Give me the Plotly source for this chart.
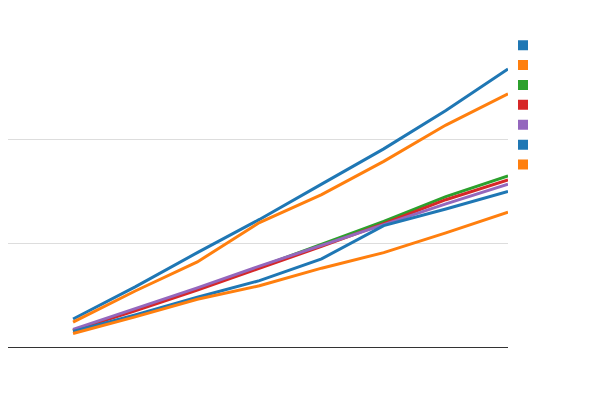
import plotly.graph_objects as go

# x positions (no labels visible in the chart)
steps = [0, 1, 2, 3, 4, 5, 6, 7]

# series values (grid step = 100)
s1 = [27, 58, 91, 123, 157, 191, 228, 268]
s2 = [24, 54, 82, 120, 147, 179, 214, 244]
s3 = [16, 36, 56, 77, 99, 121, 145, 165]
s4 = [16, 35, 55, 76, 97, 119, 142, 161]
s5 = [17, 37, 57, 78, 98, 118, 138, 157]
s6 = [15, 31, 48, 64, 85, 117, 133, 150]
s7 = [13, 29, 46, 59, 76, 91, 110, 130]

series = [s1, s2, s3, s4, s5, s6, s7]
colors = ["#1f77b4", "#ff7f0e", "#2ca02c", "#d62728", "#9467bd", "#1f77b4", "#ff7f0e"]

fig = go.Figure()
for vals, c in zip(series, colors):
    fig.add_trace(go.Scatter(x=steps, y=vals, mode="lines",
                             line=dict(color=c, width=3), showlegend=False))

# legend shows plain coloured squares with no labels
for c in colors:
    fig.add_trace(go.Scatter(x=[None], y=[None], mode="markers", name=" ",
                             marker=dict(symbol="square", size=10, color=c)))

fig.update_layout(
    width=600, height=400,
    margin=dict(l=0, r=100, t=32, b=61),
    plot_bgcolor="white", paper_bgcolor="white",
    legend=dict(x=0.99, y=1.032, xanchor="left", yanchor="top",
                bgcolor="rgba(0,0,0,0)", tracegroupgap=0, font=dict(size=13)),
)
fig.update_xaxes(range=[-1.047, 7], showgrid=False, zeroline=False,
                 showticklabels=False, showline=True, linecolor="#333333",
                 linewidth=1)
fig.update_yaxes(range=[0, 296], dtick=100, showgrid=True, gridcolor="#dddddd",
                 zeroline=False, showline=False, showticklabels=False, ticks="")

fig.write_html("out.html")
